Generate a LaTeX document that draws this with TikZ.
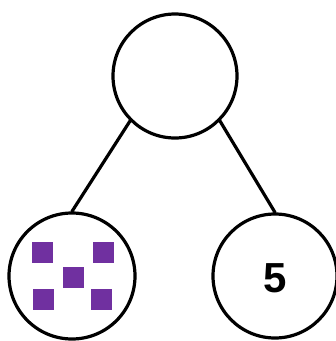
\documentclass[tikz,border=0pt]{standalone}
\usepackage{fontspec}
\setmainfont{Liberation Sans}
\definecolor{sqpurple}{HTML}{7030A0}
\begin{document}
\begin{tikzpicture}[x=1pt,y=-1pt,
  bubble/.style={circle,draw=black,line width=3.2pt,minimum size=#1,inner sep=0pt},
  link/.style={line width=3.2pt,line cap=round},
  dot/.style={fill=sqpurple,draw=none}]
\useasboundingbox (0,0) rectangle (336,341);
\node[bubble=124pt] (top) at (175,76) {};
\node[bubble=126pt] (left) at (72,276) {};
\node[bubble=124pt,font=\bfseries\fontsize{42}{42}\selectfont,text depth=0pt] (right) at (275,276) {\raisebox{-5pt}{5}};
\draw[link] (top.-135) -- (left.north);
\draw[link] (top.-45) -- (right.north);
\fill[dot] (32,242) rectangle (53,263);
\fill[dot] (93,242) rectangle (114,263);
\fill[dot] (63,267) rectangle (84,288);
\fill[dot] (33,289) rectangle (54,310);
\fill[dot] (91,289) rectangle (112,310);
\end{tikzpicture}
\end{document}
